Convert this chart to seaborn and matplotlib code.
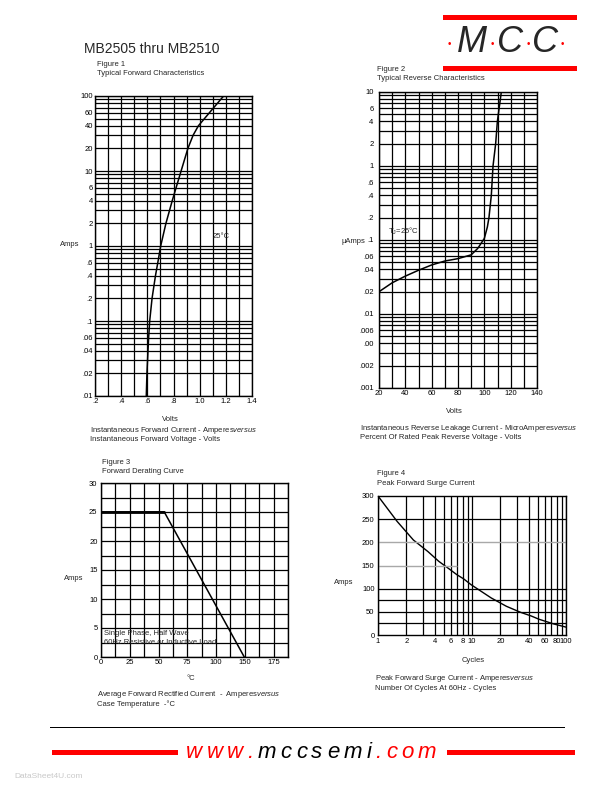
import matplotlib
matplotlib.use('Agg')
import matplotlib.pyplot as plt
import seaborn as sns
from matplotlib.patches import Rectangle
from matplotlib.ticker import FixedLocator, LogLocator, MultipleLocator, NullFormatter

W, H = 612, 792

# Figure 1 - typical forward characteristics (25 C)
fwd_volts = [0.592, 0.597, 0.605, 0.610, 0.618, 0.636, 0.662, 0.680, 0.702,
             0.742, 0.790, 0.820, 0.858, 0.910, 0.950, 0.990, 1.075, 1.183]
fwd_amps = [0.01, 0.02, 0.04, 0.06, 0.1, 0.2, 0.4, 0.6, 1,
            2, 4, 6, 10, 20, 30, 40, 60, 100]
fwd_yticks = [100, 60, 40, 20, 10, 6, 4, 2, 1, .6, .4, .2, .1, .06, .04, .02, .01]
fwd_ylabels = ['100', '60', '40', '20', '10', '6', '4', '2', '1',
               '.6', '.4', '.2', '.1', '.06', '.04', '.02', '.01']
fwd_xticks = [0.2, 0.4, 0.6, 0.8, 1.0, 1.2, 1.4]
fwd_xlabels = ['.2', '.4', '.6', '.8', '1.0', '1.2', '1.4']

# Figure 2 - typical reverse characteristics
rev_pct = [20, 30, 40, 50, 60, 70, 80, 90, 95, 100, 102.3, 103.5,
           105.3, 106.6, 108.6, 109.9, 112.9]
rev_ua = [0.02, 0.0264, 0.0325, 0.039, 0.046, 0.052, 0.056, 0.063, 0.077,
          0.105, 0.15, 0.2, 0.4, 1, 2, 4, 10]
rev_yticks = [10, 6, 4, 2, 1, .6, .4, .2, .1, .06, .04, .02, .01,
              .006, .004, .002, .001]
rev_ylabels = ['10', '6', '4', '2', '1', '.6', '.4', '.2', '.1', '.06',
               '.04', '.02', '.01', '.006', '.00', '.002', '.001']
rev_xticks = [20, 40, 60, 80, 100, 120, 140]

# Figure 3 - forward derating curve (x as drawn on the printed grid)
derate_temp = [0, 55, 124.5]
derate_amps = [25, 25, 0]
derate_xticks = [0, 25, 50, 75, 100, 125, 150]
derate_xlabels = ['0', '25', '50', '75', '100', '150', '175']  # sheet skips 125
derate_yticks = [0, 5, 10, 15, 20, 25, 30]

# Figure 4 - peak forward surge current
surge_cycles = [1, 1.6, 2.38, 3.4, 4.43, 5.68, 6.92, 8.17, 9.71,
                16.0, 23.2, 32.8, 42.7, 51.6, 73.6, 100]
surge_amps = [300, 245, 205, 180, 159, 143, 130, 121, 109,
              80, 62, 49, 41, 34, 24, 17]
surge_xticks = [1, 2, 4, 6, 8, 10, 20, 40, 60, 80, 100]
surge_yticks = [0, 50, 100, 150, 200, 250, 300]
surge_hgrid = [25, 50, 75, 100, 250]

url_parts = [('www.', 'red'), ('mccsemi', 'black'), ('.com', 'red')]

sns.set_theme(style='white')
plt.rcParams['font.family'] = ['Liberation Sans', 'DejaVu Sans']
plt.rcParams['mathtext.fontset'] = 'custom'
plt.rcParams['mathtext.rm'] = 'Liberation Sans'
plt.rcParams['mathtext.it'] = 'Liberation Sans:italic'

SMALL = 5.5
fig = plt.figure(figsize=(W / 100, H / 100), dpi=100)
fig.patch.set_facecolor('white')


def px_axes(x0, y0, x1, y1):
    return fig.add_axes([x0 / W, 1 - y1 / H, (x1 - x0) / W, (y1 - y0) / H])


def ftext(x, y, s, **kw):
    kw.setdefault('fontsize', SMALL)
    kw.setdefault('va', 'center')
    fig.text(x / W, 1 - y / H, s, **kw)


def style_axes(ax, xpad=1.5, ypad=1.5):
    for sp in ax.spines.values():
        sp.set_color('black')
        sp.set_linewidth(1.0)
    ax.tick_params(which='both', length=0, labelsize=SMALL, colors='black')
    ax.tick_params(axis='x', pad=xpad)
    ax.tick_params(axis='y', pad=ypad)
    ax.set_facecolor('white')


grid_kw = dict(color='black', linewidth=0.9)

# ---- Figure 1
ax1 = px_axes(95, 96, 252, 396)
sns.lineplot(x=fwd_volts, y=fwd_amps, ax=ax1, color='black', linewidth=1.1, sort=False)
ax1.set_yscale('log')
ax1.set_xlim(0.2, 1.4)
ax1.set_ylim(0.01, 100)
ax1.yaxis.set_major_locator(FixedLocator(fwd_yticks))
ax1.set_yticklabels(fwd_ylabels)
ax1.yaxis.set_minor_locator(LogLocator(subs=range(1, 10)))
ax1.yaxis.set_minor_formatter(NullFormatter())
ax1.set_xticks(fwd_xticks)
ax1.set_xticklabels(fwd_xlabels)
ax1.xaxis.set_minor_locator(MultipleLocator(0.1))
ax1.grid(which='both', **grid_kw)
style_axes(ax1, xpad=1.5, ypad=1.5)
ftext(213, 236, '25°C')
ftext(97, 64, 'Figure 1')
ftext(97, 73.5, 'Typical Forward Characteristics')
ftext(60, 245, 'Amps')
ftext(170, 419, 'Volts', ha='center')
ftext(90, 430, r'Instantaneous Forward Current - Amperes$\it{versus}$')
ftext(90, 439.5, 'Instantaneous Forward Voltage - Volts')

# ---- Figure 2
ax2 = px_axes(379, 92, 537, 388)
sns.lineplot(x=rev_pct, y=rev_ua, ax=ax2, color='black', linewidth=1.1, sort=False)
ax2.set_yscale('log')
ax2.set_xlim(20, 140)
ax2.set_ylim(0.001, 10)
ax2.yaxis.set_major_locator(FixedLocator(rev_yticks))
ax2.set_yticklabels(rev_ylabels)
ax2.yaxis.set_minor_locator(LogLocator(subs=range(1, 10)))
ax2.yaxis.set_minor_formatter(NullFormatter())
ax2.set_xticks(rev_xticks)
ax2.set_xticklabels([str(v) for v in rev_xticks])
ax2.xaxis.set_minor_locator(MultipleLocator(10))
ax2.grid(which='both', **grid_kw)
style_axes(ax2, xpad=1.5, ypad=4)
ftext(388, 231, r'T$_{\rm J}$=25°C')
ftext(377, 69.5, 'Figure 2')
ftext(377, 79, 'Typical Reverse Characteristics')
ftext(341, 241.5, 'µAmps')
ftext(454, 411.5, 'Volts', ha='center')
ftext(360, 428.5, r'Instantaneous Reverse Leakage Current - MicroAmperes$\it{versus}$')
ftext(360, 437.5, 'Percent Of Rated Peak Reverse Voltage - Volts')

# ---- Figure 3
ax3 = px_axes(101, 483, 288, 657)
sns.lineplot(x=derate_temp, y=derate_amps, ax=ax3, color='black', linewidth=1.1, sort=False)
sns.lineplot(x=derate_temp[:2], y=derate_amps[:2], ax=ax3, color='black', linewidth=2.0)
ax3.set_xlim(0, 162.5)
ax3.set_ylim(0, 30)
ax3.set_xticks(derate_xticks)
ax3.set_xticklabels(derate_xlabels)
ax3.xaxis.set_minor_locator(MultipleLocator(12.5))
ax3.set_yticks(derate_yticks)
ax3.set_yticklabels([str(v) for v in derate_yticks])
ax3.yaxis.set_minor_locator(MultipleLocator(2.5))
ax3.grid(which='both', **grid_kw)
style_axes(ax3, xpad=1.5, ypad=2.5)
ftext(103.5, 633.5, 'Single Phase, Half Wave')
ftext(103.5, 643, '60Hz Resistive or Inductive Load')
ftext(102, 462, 'Figure 3')
ftext(102, 472, 'Forward Derating Curve')
ftext(64, 578, 'Amps')
ftext(190.5, 679, '°C', ha='center')
ftext(97, 694.5, r'Average Forward Rectified Current  -  Amperes$\it{versus}$')
ftext(97, 704, 'Case Temperature  -°C')

# ---- Figure 4
ax4 = px_axes(378, 496, 566, 635)
sns.lineplot(x=surge_cycles, y=surge_amps, ax=ax4, color='black', linewidth=1.0, sort=False)
ax4.set_xscale('log')
ax4.set_xlim(1, 100)
ax4.set_ylim(0, 300)
ax4.xaxis.set_major_locator(FixedLocator(surge_xticks))
ax4.set_xticklabels([str(v) for v in surge_xticks])
ax4.xaxis.set_minor_locator(LogLocator(subs=range(1, 10)))
ax4.xaxis.set_minor_formatter(NullFormatter())
ax4.set_yticks(surge_yticks)
ax4.set_yticklabels([str(v) for v in surge_yticks])
ax4.grid(which='both', axis='x', **grid_kw)
for yv in surge_hgrid:
    ax4.axhline(yv, **grid_kw)
ax4.axhline(200, color='#a8a8a8', linewidth=1.0)
ax4.hlines(150, 1, 7, color='#a8a8a8', linewidth=1.0)
style_axes(ax4, xpad=2.5, ypad=2.5)
ftext(377, 473.5, 'Figure 4')
ftext(377, 483.5, 'Peak Forward Surge Current')
ftext(334, 582, 'Amps')
ftext(473, 660, 'Cycles', ha='center')
ftext(375, 679, r'Peak Forward Surge Current - Amperes$\it{versus}$')
ftext(375, 689, 'Number Of Cycles At 60Hz - Cycles')

# ---- header
ftext(84, 49, 'MB2505 thru MB2510', fontsize=10)


def px_rect(x0, y0, x1, y1, color):
    fig.patches.append(Rectangle((x0 / W, 1 - y1 / H), (x1 - x0) / W, (y1 - y0) / H,
                                 transform=fig.transFigure, color=color, lw=0))


px_rect(443, 15, 577, 19.5, 'red')
px_rect(443, 66.5, 577, 71, 'red')
for cx, ch in [(472, 'M'), (510, 'C'), (545, 'C')]:
    ftext(cx, 43, ch, fontsize=26, style='italic', ha='center')
for cx in [449.5, 492, 528, 562]:
    ftext(cx, 44, '•', fontsize=7, color='red', ha='center')

# ---- footer
px_rect(50, 726.5, 565, 727.5, 'black')
px_rect(52, 749.5, 178, 754.5, 'red')
px_rect(447, 749.5, 575, 754.5, 'red')
fig.canvas.draw()
renderer = fig.canvas.get_renderer()
x = 186
for part, col in url_parts:
    for ch in part:
        t = fig.text(x / W, 1 - 752 / H, ch, color=col, fontsize=16,
                     style='italic', va='center')
        x += t.get_window_extent(renderer).width + 4.3
ftext(14, 777, 'DataSheet4U.com', color='#c8c8c8', fontsize=6)

fig.savefig('out.png', dpi=100, facecolor='white')
